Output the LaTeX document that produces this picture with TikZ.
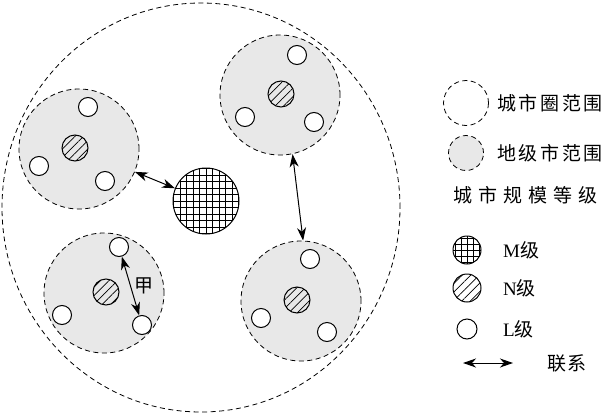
\documentclass[tikz,border=0pt]{standalone}
\usepackage{fontspec}
\setmainfont{Liberation Serif}
\newfontfamily\cjk{Noto Sans CJK SC}
\usepackage{tikz}
\usetikzlibrary{arrows.meta,patterns.meta}

\newcommand\gezi[1]{% grid inside a circle
	\foreach \k in {-6,...,6}{
		\draw[line width=.8pt] ([xshift=\k*#1]path picture bounding box.north) -- ([xshift=\k*#1]path picture bounding box.south);
		\draw[line width=.8pt] ([yshift=\k*#1]path picture bounding box.west) -- ([yshift=\k*#1]path picture bounding box.east);
	}}

\tikzset{
	fanwei/.style={draw,line width=.8pt,dash pattern=on 5pt off 3.5pt},
	diji/.style={fanwei,circle,fill=gray!18,inner sep=0pt,minimum size=120pt},
	mji/.style={circle,draw,line width=1pt,fill=white,inner sep=0pt,minimum size=66pt,
		path picture={\gezi{6.5pt}}},
	nji/.style={circle,draw,line width=1pt,inner sep=0pt,minimum size=26pt,
		pattern={Lines[angle=45,distance=6pt,line width=.7pt]}},
	lji/.style={circle,draw,line width=1pt,fill=white,inner sep=0pt,minimum size=19pt},
	lianxi/.style={{Stealth[length=13pt,width=9pt,inset=4pt]}-{Stealth[length=13pt,width=9pt,inset=4pt]},line width=1pt},
	wenzi/.style={anchor=west,inner sep=0pt,font=\fontsize{19}{22}\selectfont}
}

\begin{document}
\begin{tikzpicture}[x=1pt,y=-1pt]
	\useasboundingbox (0,0) rectangle (607,415);
	
	% city circle
	\draw[fanwei] (201,207.5) ellipse [x radius=199pt,y radius=204.5pt];
	
	% prefecture-level ranges
	\node[diji] (G1) at (79,149) {};
	\node[diji] (G2) at (280,95) {};
	\node[diji] (G3) at (104,293) {};
	\node[diji] (G4) at (301,301) {};
	
	\node[mji] (M) at (206,201) {};
	
	\node[nji] (N1) at (75,148) {};
	\node[nji] (N2) at (281,94) {};
	\node[nji] (N3) at (106,292) {};
	\node[nji] (N4) at (297,300) {};
	
	\node[lji] (L11) at (88,107) {};
	\node[lji] (L12) at (39,166) {};
	\node[lji] (L13) at (105,181) {};
	\node[lji] (L21) at (297,55) {};
	\node[lji] (L22) at (245,117) {};
	\node[lji] (L23) at (314,122) {};
	\node[lji] (L31) at (119,247) {};
	\node[lji] (L32) at (62,315) {};
	\node[lji] (L33) at (142,325) {};
	\node[lji] (L41) at (310,259) {};
	\node[lji] (L42) at (261,318) {};
	\node[lji] (L43) at (327,332) {};
	
	\draw[lianxi] (G1) -- (M);
	\draw[lianxi] (G2.-78) -- (G4.88);
	\draw[lianxi] (L31) -- node[right=3pt,inner sep=0pt,font=\fontsize{19}{22}\selectfont] (jia) {\cjk 甲} (L33);
	
	% legend
	\node[fanwei,circle,inner sep=0pt,minimum size=45pt] (K1) at (466,103) {};
	\node[wenzi] (T1) at (497,103) {\cjk\addfontfeature{LetterSpace=14}城市圈范围};
	\node[diji,minimum size=35pt] (K2) at (466,153) {};
	\node[wenzi] (T2) at (497,153) {\cjk\addfontfeature{LetterSpace=14}地级市范围};
	\node[wenzi] (T3) at (453,195) {\cjk\addfontfeature{LetterSpace=32}城市规模等级};
	
	\node[circle,draw,line width=1pt,fill=white,inner sep=0pt,minimum size=28pt,
		path picture={\gezi{6pt}}] (K3) at (467,250) {};
	\node[wenzi] (T4) at (503,250) {M{\cjk 级}};
	\node[nji,minimum size=28pt] (K4) at (467,288) {};
	\node[wenzi] (T5) at (503,288) {N{\cjk 级}};
	\node[lji,minimum size=20pt] (K5) at (467,329) {};
	\node[wenzi] (T6) at (503,329) {L{\cjk 级}};
	
	\coordinate (P1) at (463,363);
	\coordinate (P2) at (513,363);
	\draw[lianxi] (P1) -- (P2);
	\node[wenzi] (T7) at (547,363) {\cjk\addfontfeature{LetterSpace=6}联系};
	
\end{tikzpicture}
\end{document}
